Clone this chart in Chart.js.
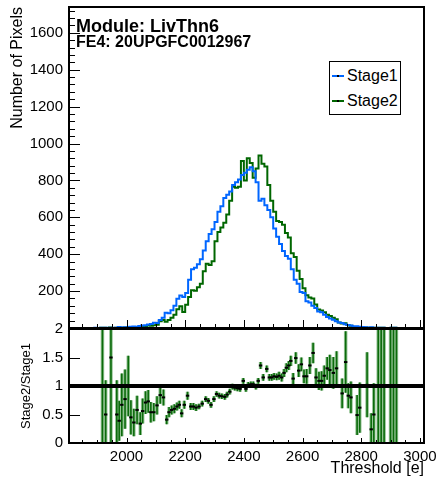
<!DOCTYPE html>
<html lang="en">
<head>
<meta charset="UTF-8">
<title>LivThn6 FE4 threshold</title>
<script src="https://cdn.jsdelivr.net/npm/chart.js"></script>
<style>
  body { margin: 0; background: #fff; font-family: "Liberation Sans", Arial, sans-serif; }
  #wrap { position: relative; width: 440px; height: 478px; overflow: hidden; }
  #top-chart { position: absolute; left: 0; top: 0; }
  #ratio-chart { position: absolute; left: 0; top: 310px; }
  .info { position: absolute; font-weight: bold; color: #000; white-space: nowrap; }
  #legend {
    position: absolute; left: 329px; top: 61px; width: 70px; height: 52px;
    border: 1px solid #000; background: #fff;
  }
  .entry { position: absolute; left: 0; width: 70px; height: 20px; }
  .entry .sample { position: absolute; left: 2px; top: 9px; width: 12px; height: 2px; }
  .entry .dot { position: absolute; left: 7px; top: 9px; width: 2px; height: 2px; background: #000; }
  .entry .txt { position: absolute; left: 17px; top: 0; font-size: 16px; line-height: 20px; color: #000; }
</style>
</head>
<body>
<div id="wrap">
  <canvas id="top-chart" width="440" height="330"></canvas>
  <canvas id="ratio-chart" width="440" height="168"></canvas>
  <div class="info" style="left:76px; top:17px; font-size:18px; line-height:18px;">Module: LivThn6</div>
  <div class="info" style="left:76px; top:34px; font-size:16px; line-height:16px;">FE4: 20UPGFC0012967</div>
  <div id="legend">
    <div class="entry" style="top:4px;"><div class="sample" style="background:#0066ff"></div><div class="dot"></div><div class="txt">Stage1</div></div>
    <div class="entry" style="top:29px;"><div class="sample" style="background:#006600"></div><div class="dot"></div><div class="txt">Stage2</div></div>
  </div>
</div>

<script>
// threshold bins (centres, 10 e wide)
const binCenters = [
  1865, 1875, 1885, 1895, 1905, 1915, 1925, 1935, 1945, 1955, 1965, 1975, 1985, 1995,
  2005, 2015, 2025, 2035, 2045, 2055, 2065, 2075, 2085, 2095,
  2105, 2115, 2125, 2135, 2145, 2155, 2165, 2175, 2185, 2195,
  2205, 2215, 2225, 2235, 2245, 2255, 2265, 2275, 2285, 2295,
  2305, 2315, 2325, 2335, 2345, 2355, 2365, 2375, 2385, 2395,
  2405, 2415, 2425, 2435, 2445, 2455, 2465, 2475, 2485, 2495,
  2505, 2515, 2525, 2535, 2545, 2555, 2565, 2575, 2585, 2595,
  2605, 2615, 2625, 2635, 2645, 2655, 2665, 2675, 2685, 2695,
  2705, 2715, 2725, 2735, 2745, 2755, 2765, 2775, 2785, 2795,
  2805, 2815, 2825, 2835, 2845, 2855, 2865, 2875, 2885, 2895,
  2905, 2915, 2925, 2935
];

const stage1 = [
  0, 0, 0, 1, 0, 1, 2, 1, 2, 1, 2, 5, 3, 4,
  4, 7, 8, 7, 11, 13, 15, 19, 22, 28,
  27, 43, 55, 82, 80, 96, 120, 158, 176, 168,
  190, 262, 318, 326, 345, 372, 420, 470, 510, 535,
  575, 630, 660, 705, 722, 740, 775, 790, 805, 830,
  842, 858, 872, 850, 790, 690, 700, 665, 640, 600,
  540, 495, 455, 418, 390, 375, 318, 262, 240, 195,
  190, 145, 138, 120, 108, 90, 85, 72, 60, 52,
  45, 36, 30, 27, 20, 16, 14, 10, 9, 7,
  6, 4, 3, 4, 2, 1, 1, 1, 0, 0,
  1, 1, 0, 0
];

const stage2 = [
  0, 0, 0, 0, 0, 1, 1, 0, 3, 0, 1, 2, 2, 3,
  4, 3, 3, 4, 4, 7, 11, 14, 12, 15,
  18, 36, 44, 34, 43, 56, 72, 101, 118, 87,
  126, 168, 204, 202, 221, 240, 308, 348, 342, 362,
  470, 520, 545, 570, 615, 690, 765, 760, 766, 905,
  800, 920, 895, 815, 865, 935, 890, 875, 775, 690,
  630, 580, 575, 560, 515, 490, 405, 385, 310, 265,
  215, 178, 165, 160, 128, 100, 95, 85, 72, 65,
  55, 47, 30, 24, 26, 16, 12, 5, 6, 4,
  4, 3, 1, 1, 1, 1, 1, 1, 0, 0,
  1, 1, 0, 0
];

// ratio Stage2/Stage1 as drawn in the lower pad
const ratioX = [
  1918, 1929, 1947, 1967, 1975, 1984, 1995, 2006, 2015, 2025, 2036, 2047, 2055, 2065, 2074,
  2083, 2093, 2104, 2115, 2126, 2137, 2145, 2154, 2163, 2172, 2180, 2188, 2197, 2208, 2219,
  2228, 2237, 2247, 2258, 2270, 2279, 2288, 2298, 2307, 2316, 2325, 2335, 2343, 2352, 2361,
  2369, 2378, 2387, 2398, 2407, 2415, 2424, 2432, 2441, 2449, 2457, 2466, 2478, 2487, 2495,
  2503, 2512, 2520, 2529, 2537, 2545, 2553, 2560, 2568, 2577, 2587, 2596, 2605, 2614, 2625,
  2636, 2646, 2656, 2665, 2674, 2684, 2693, 2705, 2716, 2735, 2747, 2756, 2765, 2786, 2795,
  2820, 2834, 2843, 2858, 2868, 2878, 2900, 2910, 2920
];
const ratioY = [
  1.0, 0.5, 1.5, 0.5, 0.39, 0.67, 0.77, 1.0, 0.45, 0.36, 0.58, 0.34, 0.56, 0.71, 0.73,
  0.54, 0.54, 0.66, 0.84, 0.8, 0.41, 0.54, 0.58, 0.6, 0.64, 0.67, 0.52, 0.67, 0.83, 0.64,
  0.64, 0.62, 0.64, 0.69, 0.77, 0.74, 0.67, 0.77, 0.86, 0.83, 0.82, 0.81, 0.85, 0.9, 0.99,
  0.97, 0.96, 0.95, 1.09, 0.95, 1.02, 1.03, 1.03, 0.99, 1.09, 1.36, 1.15, 1.3, 1.15, 1.15,
  1.17, 1.16, 1.18, 1.15, 1.23, 1.32, 1.36, 1.44, 1.13, 1.49, 1.27, 1.38, 1.17, 1.17, 1.36,
  1.58, 1.15, 1.09, 1.09, 1.18, 1.31, 1.28, 1.23, 1.31, 0.87, 1.42, 0.83, 0.8, 0.49, 0.62,
  1.02, 0.24, 0.5, 1.0, 1.0, 1.0, 1.0, 1.0, 1.0
];
const ratioErr = [
  1.5, 0.6, 1.6, 0.6, 0.35, 0.55, 0.52, 0.53, 0.3, 0.24, 0.25, 0.2, 0.22, 0.2, 0.2,
  0.18, 0.16, 0.16, 0.15, 0.14, 0.08, 0.09, 0.08, 0.08, 0.07, 0.07, 0.07, 0.07, 0.07, 0.06,
  0.06, 0.06, 0.05, 0.05, 0.05, 0.05, 0.05, 0.05, 0.05, 0.05, 0.05, 0.05, 0.05, 0.05, 0.05,
  0.05, 0.05, 0.05, 0.05, 0.05, 0.05, 0.05, 0.05, 0.05, 0.05, 0.06, 0.06, 0.06, 0.06, 0.06,
  0.06, 0.06, 0.07, 0.07, 0.07, 0.08, 0.08, 0.09, 0.1, 0.1, 0.11, 0.12, 0.12, 0.13, 0.15,
  0.18, 0.16, 0.16, 0.17, 0.18, 0.2, 0.27, 0.28, 0.3, 0.26, 0.54, 0.22, 0.28, 0.35, 0.44,
  0.57, 0.28, 0.55, 1.5, 1.5, 1.5, 1.5, 1.5, 1.5
];

// axis labels
const xTicks = [2000, 2200, 2400, 2600, 2800, 3000];
const countTicks = [200, 400, 600, 800, 1000, 1200, 1400, 1600];
const ratioTicks = [0, 0.5, 1, 1.5, 2];

const xMin = 1804, xMax = 3014;
const countMax = 1740;
const FONT = '"Liberation Sans", Arial, sans-serif';

function setTicks(values) {
  return scale => { scale.ticks = values.map(v => ({ value: v })); };
}

// ROOT-like frame with inward ticks
function drawFrame(ctx, a) {
  ctx.strokeStyle = '#000';
  ctx.lineWidth = 2;
  ctx.strokeRect(a.left, a.top, a.right - a.left, a.bottom - a.top);
}

const topFrame = {
  id: 'topFrame',
  afterDraw(chart) {
    const { ctx, chartArea: a, scales: { x, y } } = chart;
    ctx.save();
    ctx.lineWidth = 1;
    ctx.strokeStyle = '#000';
    ctx.beginPath();
    for (let v = 0; v <= countMax; v += 40) {
      const py = Math.round(y.getPixelForValue(v)) + 0.5;
      ctx.moveTo(a.left, py);
      ctx.lineTo(a.left + (v % 200 === 0 ? 11 : 6), py);
    }
    for (let v = 1850; v <= 3000; v += 50) {
      const px = Math.round(x.getPixelForValue(v)) + 0.5;
      ctx.moveTo(px, a.bottom);
      ctx.lineTo(px, a.bottom - (v % 200 === 0 ? 8 : 4));
    }
    ctx.stroke();
    drawFrame(ctx, a);
    ctx.restore();
  }
};

const ratioBars = {
  id: 'ratioBars',
  beforeDatasetsDraw(chart) {
    const { ctx, chartArea: a, scales: { x, y } } = chart;
    ctx.save();
    ctx.beginPath();
    ctx.rect(a.left, a.top, a.right - a.left, a.bottom - a.top);
    ctx.clip();
    [[3.5, '#93c293'], [1.6, '#0b6b0b']].forEach(([w, c]) => {
      ctx.lineWidth = w;
      ctx.strokeStyle = c;
      ctx.beginPath();
      ratioX.forEach((rx, i) => {
        const px = x.getPixelForValue(rx);
        ctx.moveTo(px, y.getPixelForValue(ratioY[i] - ratioErr[i]));
        ctx.lineTo(px, y.getPixelForValue(ratioY[i] + ratioErr[i]));
      });
      ctx.stroke();
    });
    ctx.restore();
  },
  afterDraw(chart) {
    const { ctx, chartArea: a, scales: { x, y } } = chart;
    ctx.save();
    // reference line at 1
    ctx.strokeStyle = '#000';
    ctx.lineWidth = 4;
    ctx.beginPath();
    const y1 = y.getPixelForValue(1);
    ctx.moveTo(a.left, y1);
    ctx.lineTo(a.right, y1);
    ctx.stroke();
    ctx.lineWidth = 1;
    ctx.beginPath();
    for (let v = 0; v <= 2; v += 0.5) {
      const py = Math.round(y.getPixelForValue(v)) + 0.5;
      ctx.moveTo(a.left, py);
      ctx.lineTo(a.left + 11, py);
    }
    for (let v = 1850; v <= 3000; v += 50) {
      const px = Math.round(x.getPixelForValue(v)) + 0.5;
      ctx.moveTo(px, a.bottom);
      ctx.lineTo(px, a.bottom - (v % 200 === 0 ? 5 : 3));
    }
    ctx.stroke();
    drawFrame(ctx, a);
    ctx.restore();
  }
};

function histPoints(vals) {
  return binCenters.map((c, i) => ({ x: c, y: vals[i] }));
}

new Chart(document.getElementById('top-chart'), {
  type: 'line',
  data: {
    datasets: [
      { label: 'Stage1', data: histPoints(stage1), borderColor: '#0066ff', borderWidth: 2, stepped: 'middle', pointRadius: 0, fill: false },
      { label: 'Stage2', data: histPoints(stage2), borderColor: '#006600', borderWidth: 2, stepped: 'middle', pointRadius: 0, fill: false }
    ]
  },
  options: {
    responsive: false,
    animation: false,
    layout: { padding: { top: 7, right: 16, bottom: 2, left: 0 } },
    plugins: { legend: { display: false }, tooltip: { enabled: false } },
    scales: {
      x: { type: 'linear', min: xMin, max: xMax, display: false },
      y: {
        min: 0, max: countMax,
        grid: { display: false, drawTicks: false },
        border: { display: false },
        ticks: {
          padding: 6, color: '#000',
          font: { size: 15, family: FONT },
          callback: v => String(v)
        },
        afterBuildTicks: setTicks(countTicks),
        title: {
          display: true, text: 'Number of Pixels', align: 'end', color: '#000',
          font: { size: 16, family: FONT }, padding: { top: 8, bottom: 0 }
        },
        afterFit(s) { s.width = 69; s.paddingTop = 0; s.paddingBottom = 0; }
      }
    }
  },
  plugins: [topFrame]
});

new Chart(document.getElementById('ratio-chart'), {
  type: 'scatter',
  data: {
    datasets: [{
      label: 'Stage2/Stage1',
      data: ratioX.map((rx, i) => ({ x: rx, y: ratioY[i] })),
      pointStyle: 'line', pointRadius: 1.7,
      pointBorderColor: '#000', pointBorderWidth: 2, showLine: false
    }]
  },
  options: {
    responsive: false,
    animation: false,
    layout: { padding: { top: 19, right: 16, bottom: 0, left: 0 } },
    plugins: { legend: { display: false }, tooltip: { enabled: false } },
    scales: {
      x: {
        type: 'linear', min: xMin, max: xMax,
        grid: { display: false, drawTicks: false },
        border: { display: false },
        ticks: {
          padding: 5, color: '#000', maxRotation: 0, autoSkip: false,
          font: { size: 15, family: FONT },
          callback: v => String(v)
        },
        afterBuildTicks: setTicks(xTicks),
        title: {
          display: true, text: 'Threshold [e]', align: 'end', color: '#000',
          font: { size: 16, family: FONT }, padding: { top: 0, bottom: 0 }
        },
        afterFit(s) { s.height = 35; s.paddingLeft = 0; s.paddingRight = 0; }
      },
      y: {
        min: 0, max: 2,
        grid: { display: false, drawTicks: false },
        border: { display: false },
        ticks: {
          padding: 6, color: '#000',
          font: { size: 15, family: FONT },
          callback: v => String(v)
        },
        afterBuildTicks: setTicks(ratioTicks),
        title: {
          display: true, text: 'Stage2/Stage1', color: '#000',
          font: { size: 13, family: FONT }, padding: { top: 19, bottom: 0 }
        },
        afterFit(s) { s.width = 69; s.paddingTop = 0; s.paddingBottom = 0; }
      }
    }
  },
  plugins: [ratioBars]
});
</script>
</body>
</html>
